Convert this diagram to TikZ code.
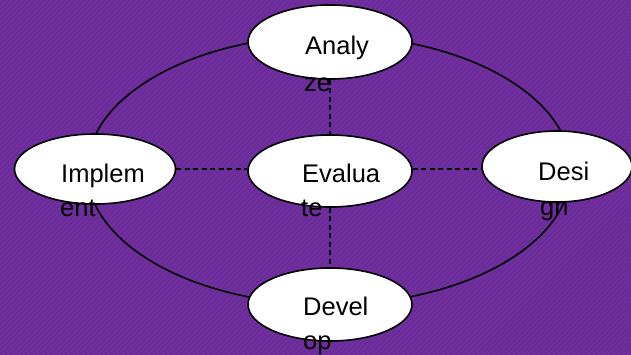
\documentclass[tikz,border=0pt]{standalone}
\usepackage{fontspec}
\setmainfont{Liberation Sans}
\definecolor{bgpurple}{RGB}{112,48,160}
\definecolor{bgstripe}{RGB}{104,43,150}
\tikzset{
  phase/.style={ellipse, draw=black, line width=1.6pt, fill=white, inner sep=0pt},
  ring/.style={draw=black, line width=1.6pt},
  link/.style={draw=black, line width=1.6pt, dash pattern=on 5pt off 3.5pt},
  lbl/.style={anchor=base west, inner sep=0pt, text=black, font=\fontsize{25.5}{30}\selectfont}
}
\usetikzlibrary{shapes.geometric}
\begin{document}
\begin{tikzpicture}[x=1pt,y=-1pt]
\useasboundingbox (0,0) rectangle (631,355);
\fill[bgpurple] (0,0) rectangle (631,355);
\begin{scope}
\clip (0,0) rectangle (631,355);
\foreach \i in {-360,-355,...,640} {
  \draw[bgstripe, line width=1.4pt] (\i,355) -- (\i+355,0);
}
\end{scope}
% outer ring
\draw[ring] (329,170) ellipse [x radius=242pt, y radius=134.5pt];
% phases
\node[phase, minimum width=164pt, minimum height=74pt] (an) at (330,42) {};
\node[phase, minimum width=161pt, minimum height=70pt] (im) at (95,169) {};
\node[phase, minimum width=164pt, minimum height=72pt] (ev) at (330,171) {};
\node[phase, minimum width=150pt, minimum height=71pt] (de) at (557,166.5) {};
\node[phase, minimum width=164pt, minimum height=73pt] (dv) at (330,304.5) {};
% dashed links
\coordinate (hl) at (ev.west |- im.east);
\coordinate (hr) at (ev.east |- im.east);
\coordinate (hd) at (de.west |- im.east);
\draw[link] (im.east) -- (hl);
\draw[link] (hr) -- (hd);
\draw[link] (an.south) -- (ev.north);
\draw[link] (ev.south) -- (dv.north);
% labels
\node[lbl] (an1) at (305,55) {Analy};
\node[lbl] (an2) at (304,91.5) {ze};
\node[lbl] (im1) at (61,183) {Implem};
\node[lbl] (im2) at (60,217) {ent};
\node[lbl] (ev1) at (302,183) {Evalua};
\node[lbl] (ev2) at (301,217) {te};
\node[lbl] (de1) at (538,181) {Desi};
\node[lbl] (de2) at (540,215) {gn};
\node[lbl] (dv1) at (303,315) {Devel};
\node[lbl] (dv2) at (303,349) {op};
\end{tikzpicture}
\end{document}
